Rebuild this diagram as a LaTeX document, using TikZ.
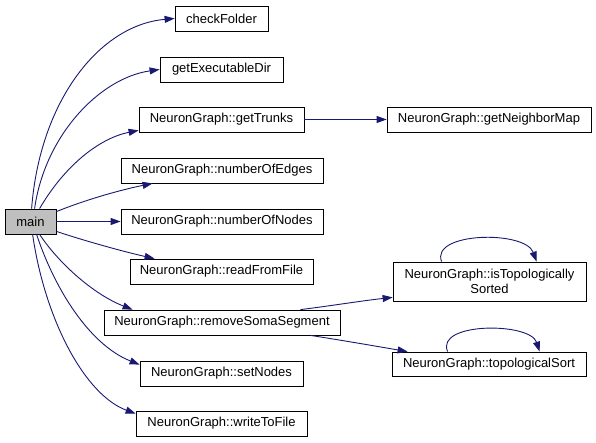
\documentclass[tikz,border=0pt]{standalone}
\usepackage{fontspec}
\setmainfont{Liberation Sans}
\usetikzlibrary{arrows.meta,calc}
\definecolor{edgeblue}{HTML}{191970}
\definecolor{maingray}{HTML}{BFBFBF}
\begin{document}
\begin{tikzpicture}[x=1pt,y=-1pt,
  fnode/.style={draw=black,line width=0.8pt,rectangle,inner sep=0pt,minimum height=25pt,
    font=\fontsize{13}{14}\selectfont,fill=white,align=center},
  edge/.style={draw=edgeblue,line width=0.9pt,-{Triangle[length=10pt,width=7pt]}}]
\useasboundingbox (0,0) rectangle (596,443);
\node[fnode,fill=maingray,minimum width=51pt] (main) at (30.5,221.5) {main};
\node[fnode,minimum width=93pt] (chk) at (221.5,18.5) {checkFolder};
\node[fnode,minimum width=123pt] (exe) at (221.5,69.5) {getExecutableDir};
\node[fnode,minimum width=165pt] (trk) at (221.5,119.5) {NeuronGraph::getTrunks};
\node[fnode,minimum width=202pt] (noe) at (222,170.5) {NeuronGraph::numberOfEdges};
\node[fnode,minimum width=202pt] (non) at (222,221.5) {NeuronGraph::numberOfNodes};
\node[fnode,minimum width=183pt] (rff) at (221.5,271.5) {NeuronGraph::readFromFile};
\node[fnode,minimum width=236pt] (rss) at (222,322.5) {NeuronGraph::removeSomaSegment};
\node[fnode,minimum width=163pt] (stn) at (221.5,373.5) {NeuronGraph::setNodes};
\node[fnode,minimum width=171pt] (wtf) at (221.5,423.5) {NeuronGraph::writeToFile};
\node[fnode,minimum width=204pt] (gnm) at (489,119.5) {NeuronGraph::getNeighborMap};
\node[fnode,minimum width=193pt,minimum height=39pt,font=\fontsize{13}{15}\selectfont] (its) at (489.5,281.5) {NeuronGraph::isTopologically\\Sorted};
\node[fnode,minimum width=194pt,minimum height=24pt] (tps) at (489,364) {NeuronGraph::topologicalSort};

\draw[edge] ($(main.north west)+(27,0)$) .. controls (40,100) and (100,25) .. (chk.west);
\draw[edge] ($(main.north west)+(30,0)$) .. controls (45,135) and (100,78) .. (exe.west);
\draw[edge] ($(main.north west)+(35,0)$) .. controls (65,165) and (100,138) .. ($(trk.south west)+(0,-2)$);
\draw[edge] ($(main.north east)+(0,3)$) .. controls (85,200) and (120,190) .. ($(noe.south west)+(32,0)$);
\draw[edge] (main.east) -- (non.west);
\draw[edge] ($(main.south east)+(0,-3)$) .. controls (85,241) and (125,252) .. ($(rff.north west)+(25,0)$);
\draw[edge] ($(main.south west)+(35,0)$) .. controls (60,265) and (95,295) .. ($(rss.north west)+(29,0)$);
\draw[edge] ($(main.south west)+(32,0)$) .. controls (55,290) and (90,345) .. ($(stn.north west)+(0,4)$);
\draw[edge] ($(main.south west)+(28,0)$) .. controls (45,320) and (85,395) .. ($(wtf.north west)+(0,3)$);
\draw[edge] (trk.east) -- (gnm.west);
\draw[edge] ($(rss.north east)+(-40,0)$) .. controls (330,306) and (360,301) .. ($(its.south west)+(0,-4)$);
\draw[edge] ($(rss.south east)+(-30,0)$) .. controls (340,340) and (375,346) .. ($(tps.north west)+(16,0)$);
\draw[edge] ($(its.north west)+(49,0)$) .. controls (430,232) and (525,230) .. ($(its.north west)+(144,0)$);
\draw[edge] ($(tps.north west)+(56,0)$) .. controls (435,322) and (530,322) .. ($(tps.north west)+(148,0)$);
\end{tikzpicture}
\end{document}
